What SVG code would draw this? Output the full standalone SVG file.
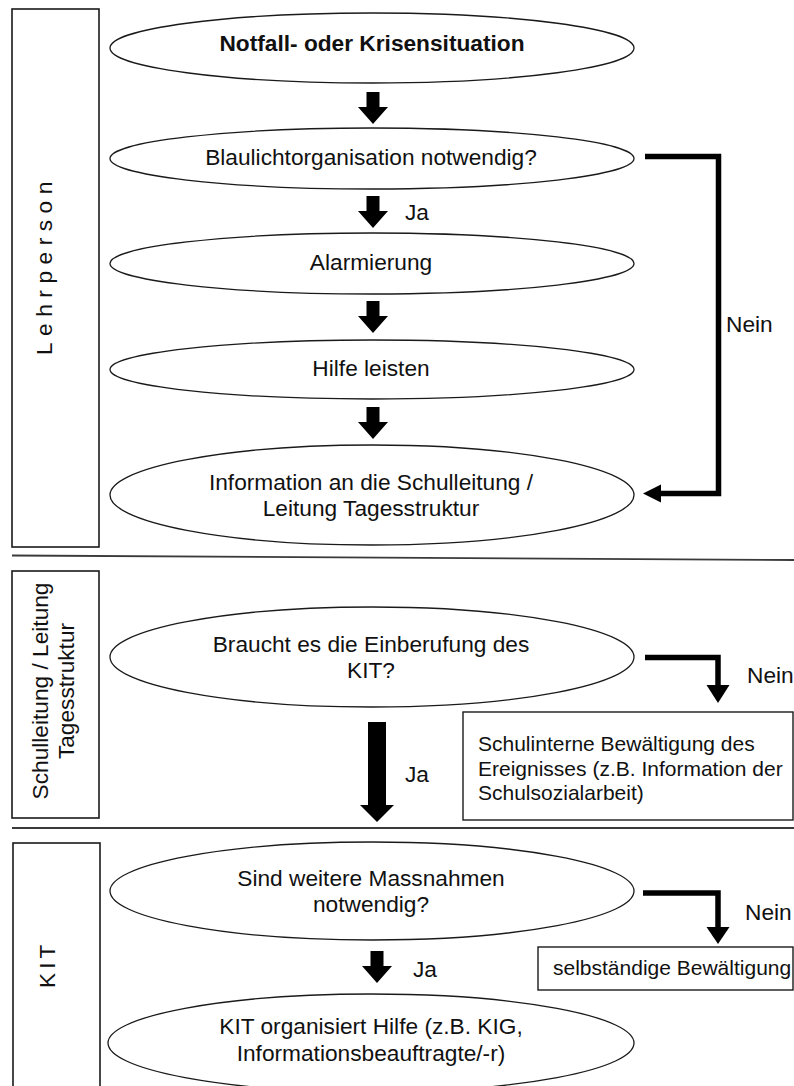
<svg xmlns="http://www.w3.org/2000/svg" xmlns:xlink="http://www.w3.org/1999/xlink" width="794" height="1086" viewBox="0 0 794 1086">
<style>
  .bg { fill: #ffffff; }
  .lane { fill: none; stroke: #1a1a1a; stroke-width: 1.6; }
  .sep { stroke: #3a3a3a; stroke-width: 1.8; fill: none; }
  .node { fill: #ffffff; stroke: #1a1a1a; stroke-width: 1.3; }
  .box { fill: #ffffff; stroke: #1a1a1a; stroke-width: 1.4; }
  .t { font-family: "Liberation Sans", Arial, sans-serif; font-size: 22.7px; fill: #111111; text-anchor: middle; }
  .tb { font-weight: bold; }
  .tl { font-family: "Liberation Sans", Arial, sans-serif; font-size: 21px; fill: #111111; }
  .lab { font-family: "Liberation Sans", Arial, sans-serif; font-size: 22.7px; fill: #111111; }
  .lane-t { font-family: "Liberation Sans", Arial, sans-serif; font-size: 22.7px; fill: #111111; }
  .conn { fill: none; stroke: #000000; stroke-width: 5.5; stroke-linejoin: miter; }
  .arr { fill: #000000; }
</style>
<defs>
  <path id="dArrow" d="M-6.5,0 H6.5 V15 H15 L0,32 L-15,15 H-6.5 Z"/>
</defs>
<rect class="bg" x="0" y="0" width="794" height="1086"/>

<g id="lanes">
  <g id="lane-lehrperson">
    <rect class="lane" x="12" y="9" width="87" height="538"/>
    <text class="lane-t" transform="translate(52,355) rotate(-90)" letter-spacing="6.5">Lehrperson</text>
  </g>
  <g id="lane-schulleitung">
    <rect class="lane" x="12" y="571" width="87" height="247"/>
    <text class="lane-t" text-anchor="middle" transform="translate(48,691) rotate(-90)">Schulleitung / Leitung</text>
    <text class="lane-t" text-anchor="middle" transform="translate(74,691) rotate(-90)">Tagesstruktur</text>
  </g>
  <g id="lane-kit">
    <rect class="lane" x="13" y="843" width="87" height="260"/>
    <text class="lane-t" transform="translate(55,988) rotate(-90)" letter-spacing="4">KIT</text>
  </g>
  <line class="sep" x1="12" y1="555.5" x2="794" y2="560"/>
  <line class="sep" x1="12" y1="828" x2="794" y2="828"/>
</g>

<g id="connectors">
  <use xlink:href="#dArrow" href="#dArrow" class="arr" x="373" y="92"/>
  <use xlink:href="#dArrow" href="#dArrow" class="arr" x="373" y="196"/>
  <use xlink:href="#dArrow" href="#dArrow" class="arr" x="373" y="301"/>
  <use xlink:href="#dArrow" href="#dArrow" class="arr" x="373" y="407"/>
  <use xlink:href="#dArrow" href="#dArrow" class="arr" x="377" y="951"/>
  <path class="arr" d="M368,722 H386 V805 H394 L377,822 L360,805 H368 Z"/>

  <path class="conn" d="M645,156.5 H718.5 V493.5 H660"/>
  <polygon class="arr" points="643,493.5 661,484.5 661,502.5"/>

  <path class="conn" d="M645,657.5 H718 V686"/>
  <polygon class="arr" points="706.5,685 729.5,685 718,703"/>

  <path class="conn" d="M643,893 H718 V928"/>
  <polygon class="arr" points="706.5,927 729.5,927 718,944"/>

  <text class="lab" x="405" y="220">Ja</text>
  <text class="lab" x="405" y="782">Ja</text>
  <text class="lab" x="413" y="977">Ja</text>
  <text class="lab" x="726" y="332">Nein</text>
  <text class="lab" x="747" y="683">Nein</text>
  <text class="lab" x="745" y="920">Nein</text>
</g>

<g id="n-notfall">
  <ellipse class="node" cx="372" cy="48" rx="262" ry="35"/>
  <text class="t tb" x="372" y="51">Notfall- oder Krisensituation</text>
</g>
<g id="n-blaulicht">
  <ellipse class="node" cx="372" cy="158.5" rx="262" ry="30.5"/>
  <text class="t" x="371" y="165">Blaulichtorganisation notwendig?</text>
</g>
<g id="n-alarmierung">
  <ellipse class="node" cx="372" cy="263.5" rx="262" ry="30.5"/>
  <text class="t" x="371" y="270">Alarmierung</text>
</g>
<g id="n-hilfe">
  <ellipse class="node" cx="372" cy="369.5" rx="262" ry="29.5"/>
  <text class="t" x="371" y="376">Hilfe leisten</text>
</g>
<g id="n-information">
  <ellipse class="node" cx="372" cy="495" rx="262" ry="50"/>
  <text class="t" x="371" y="490">Information an die Schulleitung /</text>
  <text class="t" x="371" y="516">Leitung Tagesstruktur</text>
</g>
<g id="n-einberufung">
  <ellipse class="node" cx="372" cy="657" rx="262" ry="50"/>
  <text class="t" x="371" y="652">Braucht es die Einberufung des</text>
  <text class="t" x="371" y="678">KIT?</text>
</g>
<g id="n-schulintern">
  <rect class="box" x="463" y="712" width="330" height="108"/>
  <text class="tl" x="478" y="751">Schulinterne Bewältigung des</text>
  <text class="tl" x="478" y="776">Ereignisses (z.B. Information der</text>
  <text class="tl" x="478" y="800">Schulsozialarbeit)</text>
</g>
<g id="n-massnahmen">
  <ellipse class="node" cx="372" cy="891" rx="262" ry="49"/>
  <text class="t" x="371" y="886">Sind weitere Massnahmen</text>
  <text class="t" x="371" y="912">notwendig?</text>
</g>
<g id="n-selbstaendig">
  <rect class="box" x="538" y="947" width="255" height="43"/>
  <text class="tl" x="553" y="975">selbständige Bewältigung</text>
</g>
<g id="n-kit-hilfe">
  <ellipse class="node" cx="371" cy="1043" rx="263" ry="49"/>
  <text class="t" x="371" y="1034">KIT organisiert Hilfe (z.B. KIG,</text>
  <text class="t" x="371" y="1061">Informationsbeauftragte/-r)</text>
</g>
</svg>
